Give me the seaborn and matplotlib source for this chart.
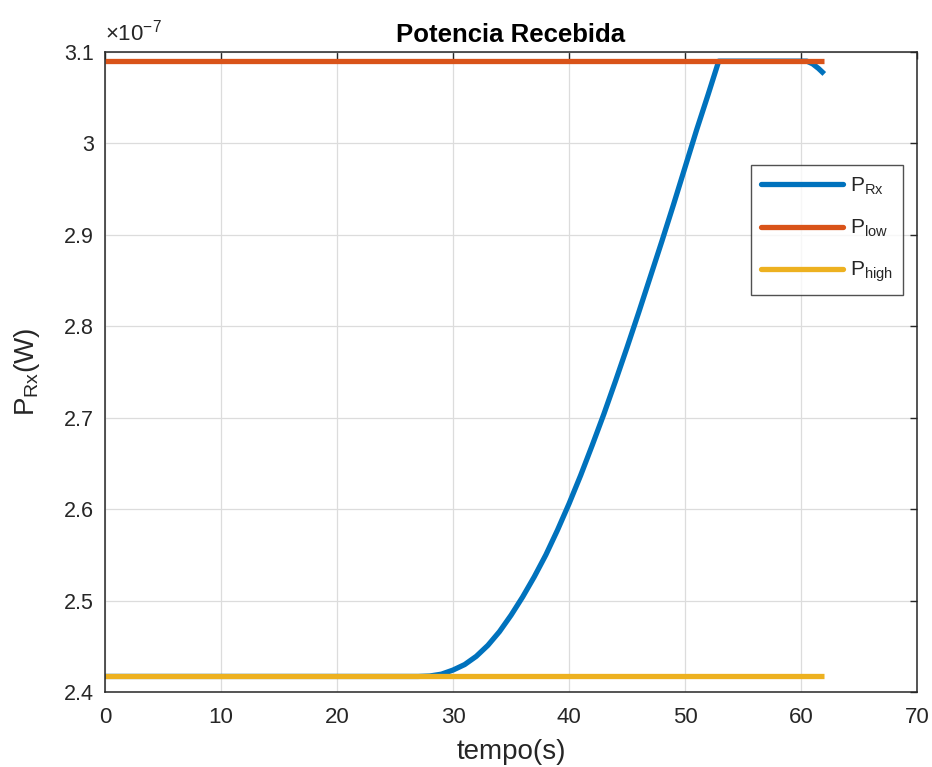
import numpy as np
import pandas as pd
import matplotlib
matplotlib.use("Agg")
import matplotlib.pyplot as plt
import seaborn as sns
from matplotlib.lines import Line2D

# ---- data (power in units of 1e-7 W) ----
t_rx = [0, 26, 27, 28, 29, 30, 31, 32, 33, 34, 35, 36, 37, 38, 39, 40, 41, 42,
        43, 44, 45, 46, 47, 48, 49, 50, 51, 52, 52.9, 60.5, 61, 61.5, 62]
p_rx = [2.417, 2.417, 2.417, 2.4175, 2.4195, 2.424, 2.430, 2.439, 2.451, 2.466,
        2.484, 2.504, 2.526, 2.550, 2.577, 2.606, 2.637, 2.670, 2.704, 2.740,
        2.777, 2.815, 2.854, 2.893, 2.933, 2.974, 3.015, 3.054, 3.090, 3.090,
        3.087, 3.082, 3.076]
t_ref = [0, 62]
p_low = [3.090, 3.090]
p_high = [2.417, 2.417]

series_names = ["P_Rx", "P_low", "P_high"]
legend_labels = [r"$\mathregular{P_{Rx}}$", r"$\mathregular{P_{low}}$", r"$\mathregular{P_{high}}$"]
colors = ["#0072BD", "#D95319", "#EDB120"]

x_ticks = [0, 10, 20, 30, 40, 50, 60, 70]
y_ticks = [2.4, 2.5, 2.6, 2.7, 2.8, 2.9, 3.0, 3.1]
y_tick_labels = ["2.4", "2.5", "2.6", "2.7", "2.8", "2.9", "3", "3.1"]

df = pd.concat([
    pd.DataFrame({"t": t_rx, "p": p_rx, "s": series_names[0]}),
    pd.DataFrame({"t": t_ref, "p": p_low, "s": series_names[1]}),
    pd.DataFrame({"t": t_ref, "p": p_high, "s": series_names[2]}),
], ignore_index=True)

sns.set_theme(style="whitegrid")
plt.rcParams["font.family"] = ["Liberation Sans", "DejaVu Sans"]
plt.rcParams["mathtext.fontset"] = "custom"
plt.rcParams["mathtext.rm"] = "Liberation Sans"
plt.rcParams["mathtext.it"] = "Liberation Sans"

fig = plt.figure(figsize=(9.32, 7.67), dpi=100)
ax = fig.add_axes([0.1127, 0.0978, 0.8713, 0.8344])

sns.lineplot(data=df, x="t", y="p", hue="s", hue_order=series_names,
             palette=colors, linewidth=3.8, ax=ax, estimator=None, sort=False,
             legend=False)
for ln in ax.get_lines():
    ln.set_solid_joinstyle("round")
    ln.set_solid_capstyle("butt")

ax.set_xlim(0, 70)
ax.set_ylim(2.4, 3.1)
ax.set_xticks(x_ticks)
ax.set_yticks(y_ticks)
ax.set_yticklabels(y_tick_labels)
ax.tick_params(axis="both", which="both", direction="in", length=5, width=1,
               labelsize=15.5, colors="#262626", top=True, right=True,
               labeltop=False, labelright=False, pad=8)
ax.tick_params(axis="x", pad=11, labelsize=16)
ax.grid(True, color="#dcdcdc", linewidth=0.9)
ax.set_facecolor("white")
for sp in ax.spines.values():
    sp.set_visible(True)
    sp.set_color("#262626")
    sp.set_linewidth(1.1)

ax.set_xlabel("tempo(s)", fontsize=20, color="#262626", labelpad=8)
ax.set_ylabel(r"$\mathregular{P_{Rx}}$(W)", fontsize=20, color="#262626", labelpad=16)
ax.set_title("Potencia Recebida", fontsize=18.5, fontweight="bold", color="black", pad=7)
ax.text(0.0, 1.01, r"$\mathregular{\times10^{-7}}$", transform=ax.transAxes,
        fontsize=16, color="#262626", ha="left", va="bottom")

handles = [Line2D([0], [0], color=c, linewidth=3.8) for c in colors]
leg = ax.legend(handles, legend_labels, loc="upper right",
                bbox_to_anchor=(0.983, 0.823), fontsize=15, handlelength=3.9,
                frameon=True, fancybox=False, edgecolor="#262626",
                borderpad=0.5, labelspacing=1.0, handletextpad=0.35,
                borderaxespad=0)
leg.get_frame().set_linewidth(1.0)
for txt in leg.get_texts():
    txt.set_color("#262626")

fig.savefig("out.png", dpi=100, facecolor="white")
